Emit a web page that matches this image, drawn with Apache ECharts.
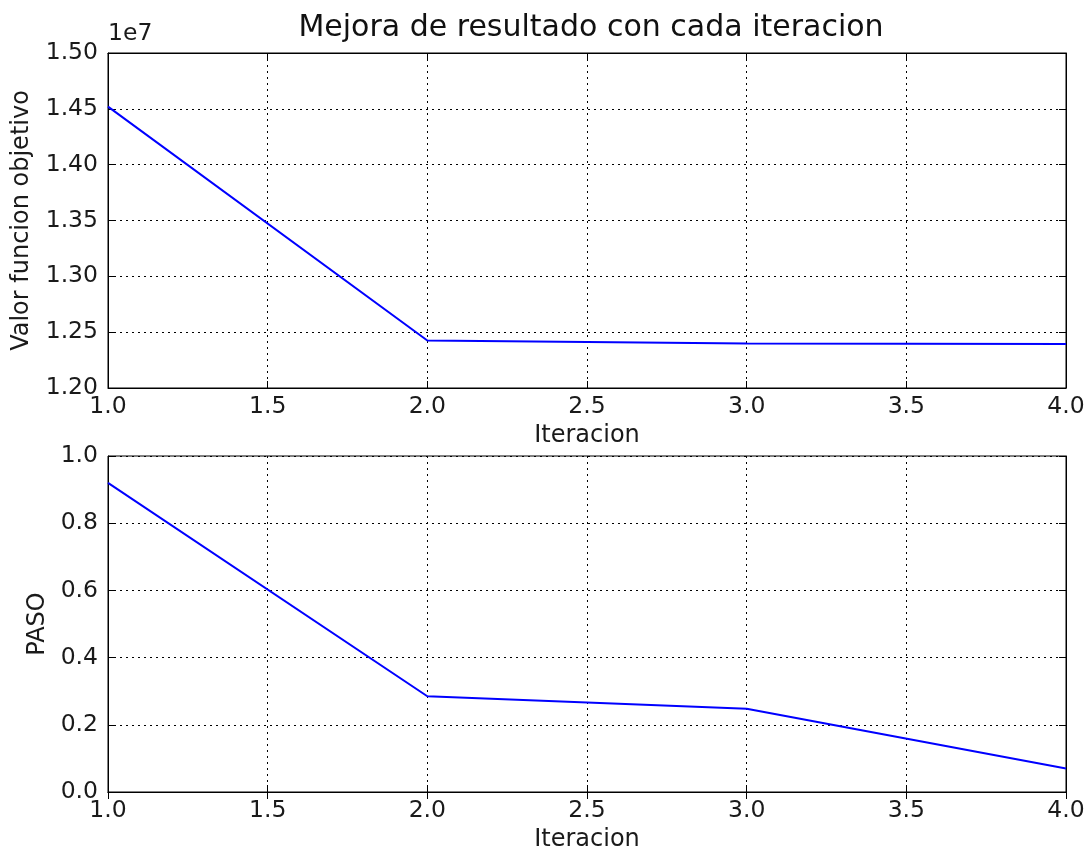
<!DOCTYPE html>
<html>
<head>
<meta charset="utf-8">
<script src="https://cdn.jsdelivr.net/npm/echarts@6/dist/echarts.min.js"></script>
<style>
html,body{margin:0;padding:0;background:#fff;}
#chart{width:1091px;height:857px;}
</style>
</head>
<body>
<div id="chart"></div>
<script>
// Data
const iterations = [1, 2, 3, 4];
const objectiveValues = [14520000, 12425000, 12398000, 12395000];
const stepValues = [0.92, 0.285, 0.248, 0.07];
const titleText = 'Mejora de resultado con cada iteracion';
const xLabel = 'Iteracion';
const yLabelTop = 'Valor funcion objetivo';
const yLabelBottom = 'PASO';
const offsetLabel = '1e7';

const FONT = 'DejaVu Sans';
const chart = echarts.init(document.getElementById('chart'));

const gridLine = {show: true, lineStyle: {color: '#000', width: 1, type: [2, 4]}};
const axisLine = {show: true, lineStyle: {color: '#000', width: 1}};
const tick = {show: true, inside: true, length: 7, lineStyle: {color: '#000', width: 1}};
const tickLabel = {fontFamily: FONT, fontSize: 23.5, color: '#1a1a1a'};
const nameStyle = {fontFamily: FONT, fontSize: 24, color: '#1a1a1a'};

function xMain(gi) {
  return {
    type: 'value', gridIndex: gi, position: 'bottom', min: 1, max: 4, interval: 0.5,
    axisLine: axisLine, axisTick: tick, splitLine: gridLine,
    axisLabel: Object.assign({margin: 7, formatter: v => v.toFixed(1)}, tickLabel),
    name: xLabel, nameLocation: 'middle', nameGap: 36, nameTextStyle: nameStyle
  };
}
function xTop(gi) {
  return {
    type: 'value', gridIndex: gi, position: 'top', min: 1, max: 4, interval: 0.5,
    axisLine: axisLine, axisTick: tick, splitLine: {show: false}, axisLabel: {show: false}
  };
}

const option = {
  backgroundColor: '#fff',
  animation: false,
  title: {
    text: titleText, left: 586, textAlign: 'center', top: 8,
    textStyle: {fontFamily: FONT, fontSize: 30, fontWeight: 'normal', color: '#111'}
  },
  grid: [
    {left: 108, right: 25, top: 53, height: 335, show: true, borderColor: '#000', borderWidth: 1, backgroundColor: 'transparent'},
    {left: 108, right: 25, top: 456, height: 336, show: true, borderColor: '#000', borderWidth: 1, backgroundColor: 'transparent'}
  ],
  xAxis: [xMain(0), xTop(0), xMain(1), xTop(1)],
  yAxis: [
    {
      type: 'value', gridIndex: 0, position: 'left', min: 12000000, max: 15000000, interval: 500000,
      axisLine: axisLine, axisTick: tick, splitLine: gridLine,
      axisLabel: Object.assign({margin: 10, formatter: v => (v / 1e7).toFixed(2)}, tickLabel),
      name: yLabelTop, nameLocation: 'middle', nameGap: 74, nameTextStyle: nameStyle
    },
    {
      type: 'value', gridIndex: 0, position: 'right', min: 12000000, max: 15000000, interval: 500000,
      axisLine: axisLine, axisTick: tick, splitLine: {show: false}, axisLabel: {show: false},
      name: offsetLabel, nameLocation: 'end', nameGap: 7,
      nameTextStyle: {fontFamily: FONT, fontSize: 23.5, color: '#1a1a1a', align: 'left', padding: [0, 0, 0, -958]}
    },
    {
      type: 'value', gridIndex: 1, position: 'left', min: 0, max: 1, interval: 0.2,
      axisLine: axisLine, axisTick: tick, splitLine: gridLine,
      axisLabel: Object.assign({margin: 10, formatter: v => v.toFixed(1)}, tickLabel),
      name: yLabelBottom, nameLocation: 'middle', nameGap: 56, nameTextStyle: nameStyle
    },
    {
      type: 'value', gridIndex: 1, position: 'right', min: 0, max: 1, interval: 0.2,
      axisLine: axisLine, axisTick: tick, splitLine: {show: false}, axisLabel: {show: false}
    }
  ],
  series: [
    {
      type: 'line', xAxisIndex: 0, yAxisIndex: 0,
      data: iterations.map((x, i) => [x, objectiveValues[i]]),
      showSymbol: false, lineStyle: {color: '#0000ff', width: 2}, itemStyle: {color: '#0000ff'}
    },
    {
      type: 'line', xAxisIndex: 2, yAxisIndex: 2,
      data: iterations.map((x, i) => [x, stepValues[i]]),
      showSymbol: false, lineStyle: {color: '#0000ff', width: 2}, itemStyle: {color: '#0000ff'}
    }
  ]
};
chart.setOption(option);
</script>
</body>
</html>
